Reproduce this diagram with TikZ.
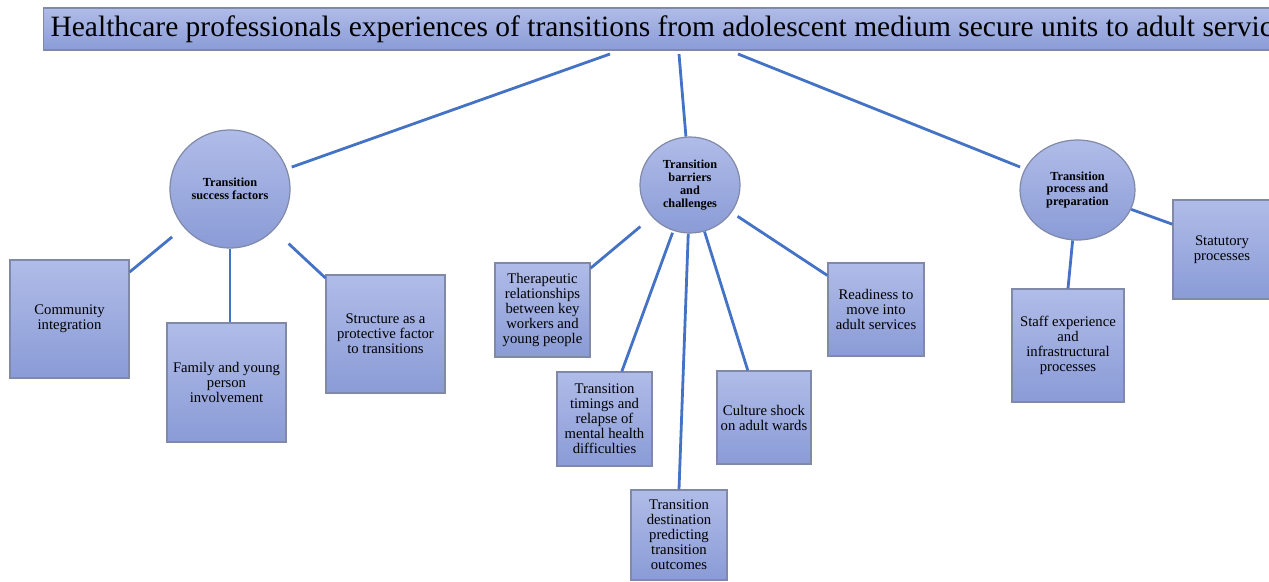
\documentclass[tikz,border=0pt]{standalone}
\usepackage{fontspec}
\setmainfont{Liberation Serif}
\usetikzlibrary{shapes.geometric}

\definecolor{linkblue}{RGB}{68,114,196}
\definecolor{boxtop}{RGB}{176,188,232}
\definecolor{boxbot}{RGB}{138,155,214}
\definecolor{boxline}{RGB}{128,138,168}

\begin{document}
\begin{tikzpicture}[x=1pt, y=-1pt,
    theme/.style={ellipse, draw=boxline, line width=1.2pt, top color=boxtop, bottom color=boxbot,
      align=center, inner sep=0pt, font=\bfseries\fontsize{12.3}{12.8}\selectfont},
    subtheme/.style={rectangle, draw=boxline, line width=1.2pt, top color=boxtop, bottom color=boxbot,
      align=center, inner sep=0pt, font=\fontsize{14.7}{15}\selectfont},
    link/.style={draw=linkblue, line width=2.8pt}]

    \useasboundingbox (0,0) rectangle (1269,581);

    % title bar
    \node[rectangle, draw=boxline, line width=1.2pt, top color=boxtop, bottom color=boxbot,
      anchor=west, minimum height=42pt, inner xsep=7pt, font=\fontsize{29.5}{32}\selectfont]
      (title) at (43,29) {Healthcare professionals experiences of transitions from adolescent medium secure units to adult services};

    % themes
    \node[theme, minimum width=120pt, minimum height=118pt] (success) at (230,189) {Transition\\success factors};
    \node[theme, minimum width=100pt, minimum height=96pt] (barriers) at (690,185) {Transition\\barriers\\and\\challenges};
    \node[theme, minimum width=115pt, minimum height=100pt] (process) at (1077.5,190) {Transition\\process and\\preparation};

    % subthemes
    \node[subtheme, minimum width=119pt, minimum height=118pt] (community) at (69.5,319) {Community\\integration};
    \node[subtheme, minimum width=119pt, minimum height=119pt] (family) at (226.5,382.5) {Family and young\\person\\involvement};
    \node[subtheme, minimum width=119pt, minimum height=118pt] (structure) at (385.5,334) {Structure as a\\protective factor\\to transitions};

    \node[subtheme, minimum width=95pt, minimum height=94pt] (therapeutic) at (542.5,310) {Therapeutic\\relationships\\between key\\workers and\\young people};
    \node[subtheme, minimum width=95pt, minimum height=94pt] (timings) at (604.5,419) {Transition\\timings and\\relapse of\\mental health\\difficulties};
    \node[subtheme, minimum width=96pt, minimum height=90pt] (destination) at (679,535) {Transition\\destination\\predicting\\transition\\outcomes};
    \node[subtheme, minimum width=94pt, minimum height=93pt] (culture) at (764,417.5) {Culture shock\\on adult wards};
    \node[subtheme, minimum width=96pt, minimum height=93pt] (readiness) at (876,309.5) {Readiness to\\move into\\adult services};

    \node[subtheme, minimum width=112pt, minimum height=113pt] (staff) at (1068,345.5) {Staff experience\\and\\infrastructural\\processes};
    \node[subtheme, minimum width=98pt, minimum height=99pt] (statutory) at (1222,249.5) {Statutory\\processes};

    % free ends under the title bar
    \coordinate (t1) at (610,54);
    \coordinate (t2) at (679,54);
    \coordinate (t3) at (738,54);

    \draw[link, shorten >=5pt] (t1) -- (success);
    \draw[link] (t2) -- (barriers);
    \draw[link, shorten >=5pt] (t3) -- (process);

    \draw[link, shorten <=15pt] (success) -- (community.38);
    \draw[link] (success.south) -- (success.south |- family.north);
    \draw[link, shorten <=20pt] (success) -- (structure.137);

    \draw[link, shorten <=15pt] (barriers) -- (therapeutic.41);
    \draw[link, shorten <=2pt] (barriers) -- (timings.70);
    \draw[link] (barriers) -- (destination.north);
    \draw[link] (barriers) -- (culture.109);
    \draw[link, shorten <=7pt] (barriers) -- (readiness.145);

    \draw[link] (process) -- (staff.north);
    \draw[link] (process) -- (statutory.153);
\end{tikzpicture}
\end{document}
